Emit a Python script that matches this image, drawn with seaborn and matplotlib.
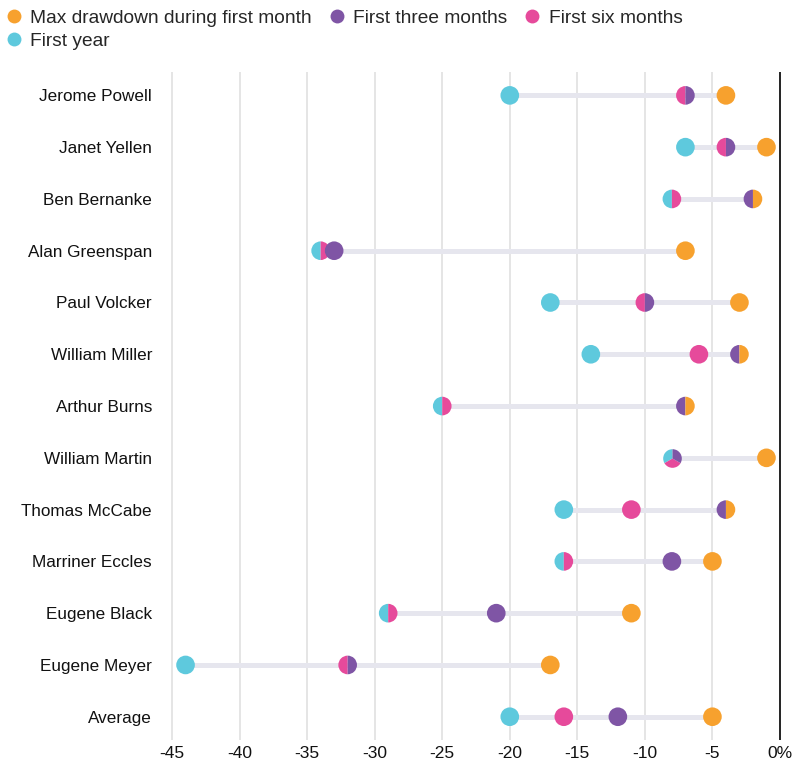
import numpy as np
import pandas as pd
import matplotlib
matplotlib.use("Agg")
import matplotlib.pyplot as plt
from matplotlib.path import Path
from matplotlib.lines import Line2D
import seaborn as sns

# ---------------- data ----------------
names = ["Jerome Powell", "Janet Yellen", "Ben Bernanke", "Alan Greenspan",
         "Paul Volcker", "William Miller", "Arthur Burns", "William Martin",
         "Thomas McCabe", "Marriner Eccles", "Eugene Black", "Eugene Meyer",
         "Average"]
first_month = [-4, -1, -2, -7, -3, -3, -7, -1, -4, -5, -11, -17, -5]
three_months = [-7, -4, -2, -33, -10, -3, -7, -8, -4, -8, -21, -32, -12]
six_months = [-7, -4, -8, -34, -10, -6, -25, -8, -11, -16, -29, -32, -16]
first_year = [-20, -7, -8, -34, -17, -14, -25, -8, -16, -16, -29, -44, -20]

series_labels = ["Max drawdown during first month", "First three months",
                 "First six months", "First year"]
xticks = [-45, -40, -35, -30, -25, -20, -15, -10, -5, 0]
xtick_labels = ["-45", "-40", "-35", "-30", "-25", "-20", "-15", "-10", "-5", "0%"]

colors = {
    "Max drawdown during first month": "#F7A12E",
    "First three months": "#7F55A5",
    "First six months": "#E64A9B",
    "First year": "#5EC9DD",
}

# ---------------- figure ----------------
sns.set_theme(style="white")
plt.rcParams["font.family"] = ["Liberation Sans", "DejaVu Sans"]

fig = plt.figure(figsize=(7.95, 7.66), dpi=100)
ax = fig.add_axes([0.2062, 0.0339, 0.78, 0.872])

rows = []
vals = {"Max drawdown during first month": first_month,
        "First three months": three_months,
        "First six months": six_months,
        "First year": first_year}
for i, n in enumerate(names):
    for s in series_labels:
        rows.append({"name": n, "y": i, "series": s, "value": vals[s][i]})
df = pd.DataFrame(rows)

# connector lines
rng = df.groupby("y")["value"].agg(["min", "max"]).reset_index()
ax.hlines(rng["y"], rng["min"], rng["max"], color="#E6E6EE", lw=3.6, zorder=2)

# gridlines & zero line
for t in xticks[:-1]:
    ax.axvline(t, color="#E0E0E0", lw=1.2, zorder=1)
ax.axvline(0, color="#111111", lw=1.3, zorder=1)

# tied values become pie-split markers; order left->right: year, six, three, month
order = ["First year", "First six months", "First three months",
         "Max drawdown during first month"]
df["ord"] = df["series"].map({s: k for k, s in enumerate(order)})
df = df.sort_values(["y", "value", "ord"])
df["k"] = df.groupby(["y", "value"]).cumcount()
df["n"] = df.groupby(["y", "value"])["value"].transform("size")


def wedge_path(k, n):
    if n == 1:
        return "o"
    span = 360.0 / n
    t1 = 90 + k * span
    return Path.wedge(t1, t1 + span)


size = 180
for s in order:
    sub_all = df[df["series"] == s]
    for (k, n), sub in sub_all.groupby(["k", "n"]):
        sns.scatterplot(data=sub, x="value", y="y", hue="series",
                        palette=colors, marker=wedge_path(k, n), s=size,
                        linewidth=0, legend=False, ax=ax, zorder=3)

ax.set_xlim(-45.6, 0.3)
ax.set_ylim(12.45, -0.45)
ax.set_xticks(xticks)
ax.set_xticklabels(xtick_labels, fontsize=12.5, color="#111111")
ax.set_yticks(range(len(names)))
ax.set_yticklabels(names, fontsize=12.3, color="#111111")
ax.tick_params(axis="y", length=0, pad=8.5)
ax.tick_params(axis="x", length=0, pad=4)
ax.set_xlabel("")
ax.set_ylabel("")
for sp in ax.spines.values():
    sp.set_visible(False)

legend_order = ["Max drawdown during first month", "First year",
                "First three months", "First six months"]
handles = [Line2D([0], [0], marker="o", color="none", markerfacecolor=colors[s],
                  markeredgewidth=0, markersize=10, label=s) for s in legend_order]
fig.legend(handles=handles, loc="upper left", bbox_to_anchor=(-0.004, 0.998),
           ncol=3, frameon=False, fontsize=13.8, handletextpad=0.35,
           columnspacing=0.8, handlelength=1.0, labelspacing=0.32,
           borderaxespad=0.2, borderpad=0.2)

fig.savefig("out.png", dpi=100)
